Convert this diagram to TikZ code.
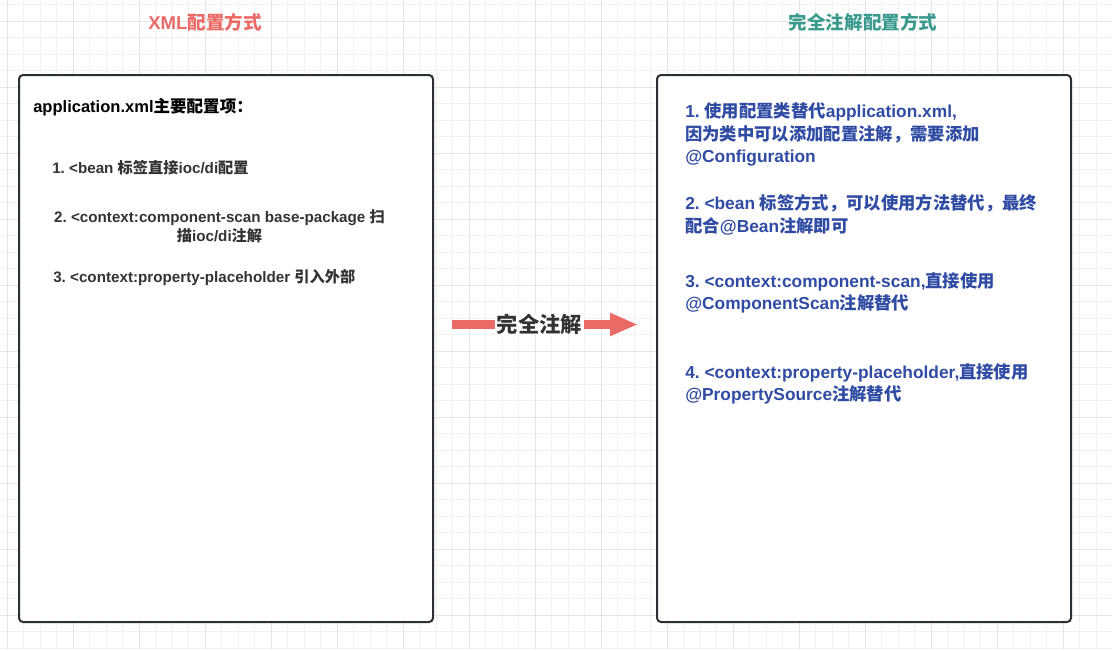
\documentclass[tikz,border=0pt]{standalone}
\usepackage{fontspec}
\usetikzlibrary{arrows.meta}
\setmainfont{Liberation Sans}
\newfontfamily\cjk{Noto Sans CJK SC}
\frenchspacing
% automatic switch to the CJK font for CJK characters
\XeTeXinterchartokenstate=1
\newXeTeXintercharclass\CJKcls
\newcount\cjkcnt
\def\setcjkrange#1#2{\cjkcnt=#1\relax
  \loop\XeTeXcharclass\cjkcnt=\CJKcls\relax
  \ifnum\cjkcnt<#2\relax\advance\cjkcnt by 1\repeat}
\setcjkrange{"3000}{"303F}
\setcjkrange{"4E00}{"9FFF}
\setcjkrange{"FF00}{"FFEF}
\XeTeXinterchartoks 0 \CJKcls = {\begingroup\cjk}
\XeTeXinterchartoks 4095 \CJKcls = {\begingroup\cjk}
\XeTeXinterchartoks \CJKcls 0 = {\endgroup}
\XeTeXinterchartoks \CJKcls 4095 = {\endgroup}

\definecolor{gridminor}{HTML}{F1F1F1}
\definecolor{gridmajor}{HTML}{E4E4E4}
\definecolor{xmlred}{HTML}{EA6B66}
\definecolor{annoteal}{HTML}{3A9A8D}
\definecolor{annoblue}{HTML}{2F4BA3}
\definecolor{boxline}{HTML}{2A3035}
\definecolor{darktext}{HTML}{333333}

\tikzset{
  minorline/.style={draw=gridminor, line width=0.75pt},
  majorline/.style={draw=gridmajor, line width=0.75pt},
  panel/.style={draw=boxline, line width=1.5pt, fill=white, rounded corners=3pt,
    minimum width=310.5pt, minimum height=410.25pt, inner sep=0pt},
  titletext/.style={inner sep=0pt, font=\bfseries\fontsize{13.9}{16}\selectfont},
  lefthead/.style={inner sep=0pt, anchor=west, text=black, font=\bfseries\fontsize{12.4}{15}\selectfont},
  leftitem/.style={inner sep=0pt, text=darktext, font=\bfseries\fontsize{11.4}{13.9}\selectfont},
  rightitem/.style={inner sep=0pt, anchor=west, align=left, text=annoblue, font=\bfseries\fontsize{13}{16.9}\selectfont},
  bigarrow/.style={draw=xmlred, line width=7pt, -{Triangle[length=21pt,width=16pt]}},
  arrowlabel/.style={fill=white, inner xsep=1.5pt, inner ysep=0pt, text=darktext, font=\bfseries\fontsize{16}{18}\selectfont}
}

\begin{document}
\begin{tikzpicture}[x=0.75pt,y=-0.75pt]
\useasboundingbox (0,0) rectangle (1112,650);
\fill[white] (0,0) rectangle (1112,650);
% grid
\foreach \gx in {7,23.5,...,1112} \draw[minorline] (\gx,0) -- (\gx,650);
\foreach \gy in {4.5,21,...,650} \draw[minorline] (0,\gy) -- (1112,\gy);
\foreach \gx in {7,73,...,1112} \draw[majorline] (\gx,0) -- (\gx,650);
\foreach \gy in {21,87,...,650} \draw[majorline] (0,\gy) -- (1112,\gy);

% titles
\node[titletext, text=xmlred] (t1) at (205,22) {XML配置方式};
\node[titletext, text=annoteal] (t2) at (863,22) {完全注解配置方式};

% panels
\node[panel] (L) at (226,348.5) {};
\node[panel] (R) at (864,348.5) {};

% left texts
\node[lefthead] (lh) at (33,107) {application.xml主要配置项：};
\node[leftitem, anchor=west] (l1) at (52,168) {1. <bean 标签直接ioc/di配置};
\node[leftitem, align=center] (l2) at (219.5,226.5) {2. <context:component-scan base-package 扫\\描ioc/di注解};
\node[leftitem, anchor=west] (l3) at (53,277) {3. <context:property-placeholder 引入外部};

% right texts
\node[rightitem] (r1) at (685,134.5) {1. 使用配置类替代application.xml,\\因为类中可以添加配置注解，需要添加\\@Configuration};
\node[rightitem] (r2) at (685,215) {2. <bean 标签方式，可以使用方法替代，最终\\配合@Bean注解即可};
\node[rightitem] (r3) at (685,293) {3. <context:component-scan,直接使用\\@ComponentScan注解替代};
\node[rightitem] (r4) at (685,384) {4. <context:property-placeholder,直接使用\\@PropertySource注解替代};

% arrow
\coordinate (as) at (452,324.5);
\coordinate (ae) at (638,324.5);
\draw[bigarrow] (as) -- (ae) node[arrowlabel, pos=0.47] (al) {完全注解};
\end{tikzpicture}
\end{document}
